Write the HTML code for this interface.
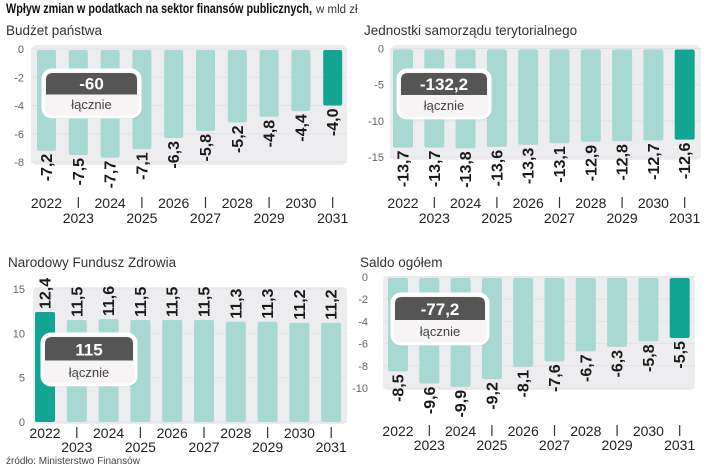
<!DOCTYPE html>
<html><head><meta charset="utf-8">
<style>
body{margin:0;background:#fff;width:720px;height:468px;overflow:hidden}
svg{display:block}
text{font-family:"Liberation Sans Narrow","Liberation Sans",sans-serif}
</style></head>
<body>
<svg id="c" width="720" height="468" viewBox="0 0 720 468" xmlns="http://www.w3.org/2000/svg">
<text x="6" y="13" font-size="13.5" fill="#111"><tspan font-weight="bold" textLength="306" lengthAdjust="spacingAndGlyphs">Wpływ zmian w podatkach na sektor finansów publicznych,</tspan><tspan font-family="Liberation Sans" font-size="11.5" fill="#333" dx="4">w mld zł</tspan></text>
<text x="6" y="464" font-size="10" fill="#444">źródło: Ministerstwo Finansów</text>
</svg>
<script>
const years = ["2022","2023","2024","2025","2026","2027","2028","2029","2030","2031"];
const budzetValues = [-7.2,-7.5,-7.7,-7.1,-6.3,-5.8,-5.2,-4.8,-4.4,-4.0];
const jstValues = [-13.7,-13.7,-13.8,-13.6,-13.3,-13.1,-12.9,-12.8,-12.7,-12.6];
const nfzValues = [12.4,11.5,11.6,11.5,11.5,11.5,11.3,11.3,11.2,11.2];
const saldoValues = [-8.5,-9.6,-9.9,-9.2,-8.1,-7.6,-6.7,-6.3,-5.8,-5.5];
const budzetTicks = [0,-2,-4,-6,-8];
const jstTicks = [0,-5,-10,-15];
const nfzTicks = [15,10,5,0];
const saldoTicks = [0,-2,-4,-6,-8,-10];
const totals = ["-60","-132,2","115","-77,2"];
const titles = ["Budżet państwa","Jednostki samorządu terytorialnego","Narodowy Fundusz Zdrowia","Saldo ogółem"];

const NS="http://www.w3.org/2000/svg";
const svg=document.getElementById('c');
function mk(tag,attrs,parent){const e=document.createElementNS(NS,tag);for(const k in attrs)e.setAttribute(k,attrs[k]);(parent||svg).appendChild(e);return e;}
function fmt(v){return v.toFixed(1).replace('.',',');}

const panels=[
 {key:'budzet',vals:budzetValues,ticks:budzetTicks,title:titles[0],total:totals[0],hi:9,
  tx:6,ty:35,bg:[31,45,347,165],y0:49,ymin:0,ymax:-8,yAtMax:162,bx:37,bw:19,pitch:31.8,tickR:24,box:[43,70,140,117],yr1:208,yr2:223},
 {key:'jst',vals:jstValues,ticks:jstTicks,title:titles[1],total:totals[1],hi:9,
  tx:364,ty:35,bg:[390,45,701,160],y0:48.5,ymin:0,ymax:-15,yAtMax:157,bx:393,bw:20,pitch:31.3,tickR:384,box:[398,70,490,118],yr1:208,yr2:223},
 {key:'nfz',vals:nfzValues,ticks:nfzTicks,title:titles[2],total:totals[2],hi:0,
  tx:8,ty:267,bg:[33,287,347,424],y0:422,ymin:0,ymax:15,yAtMax:289,bx:35,bw:20,pitch:31.8,tickR:25,box:[42,334,136,385],yr1:438,yr2:452},
 {key:'saldo',vals:saldoValues,ticks:saldoTicks,title:titles[3],total:totals[3],hi:9,
  tx:360,ty:267,bg:[383,276,695,390],y0:277,ymin:0,ymax:-10,yAtMax:388,bx:388,bw:20,pitch:31.3,tickR:368,box:[392,294,488,344],yr1:436,yr2:450}
];

panels.forEach(p=>{
  const g=mk('g',{});
  
  
  const yScale=v=>p.y0+(v-p.ymin)*(p.yAtMax-p.y0)/(p.ymax-p.ymin);
  const xScale=i=>p.bx+i*p.pitch;
  const t=mk('text',{x:p.tx,y:p.ty,'font-size':13.5,fill:'#333','font-family':'Liberation Sans'},g);
  t.textContent=p.title;
  
  
  const bg=mk('rect',{x:p.bg[0],y:p.bg[1],width:p.bg[2]-p.bg[0],height:p.bg[3]-p.bg[1],rx:6,fill:'#ededef'},g);
  
  
  p.ticks.forEach(tv=>{
    const y=yScale(tv);
    const gl=mk('line',{x1:p.bg[0],x2:p.bg[2],y1:y,y2:y,stroke:'#e2e2e6','stroke-width':1},g);
    
    
    const tl=mk('text',{x:p.tickR,y:y+4,'font-size':11,fill:'#666','text-anchor':'end','font-family':'Liberation Sans'},g);
    tl.textContent=String(tv);
    
    
  });
  p.vals.forEach((v,i)=>{
    const x=xScale(i);
    const ya=yScale(0)+(v<0?1:0), yb=yScale(v);
    const top=Math.min(ya,yb), h=Math.abs(yb-ya);
    const b=mk('rect',{x:x,y:top,width:p.bw,height:h,rx:2,fill:i===p.hi?'#12a594':'#a7d9d2'},g);
    
    
    const cx=x+p.bw/2+5.5;
    let lbl;
    if(v<0){
      lbl=mk('text',{x:0,y:0,'font-size':16,'font-weight':'bold',fill:'#1a1a1a','text-anchor':'end',transform:`translate(${cx},${yb+3}) rotate(-90)`},g);
    }else{
      lbl=mk('text',{x:0,y:0,'font-size':16,'font-weight':'bold',fill:'#1a1a1a','text-anchor':'start',transform:`translate(${cx},${yb-3}) rotate(-90)`},g);
    }
    lbl.textContent=fmt(v);
    
    
    const xc=x+p.bw/2;
    const yl=mk('text',{x:xc,y:i%2===0?p.yr1:p.yr2,'font-size':14,fill:'#222','text-anchor':'middle','font-family':'Liberation Sans'},g);
    yl.textContent=years[i];
    
    
    if(i%2===1){
      const s=mk('line',{x1:xc,x2:xc,y1:p.yr1-11,y2:p.yr1,stroke:'#333','stroke-width':1.2},g);
      
      
    }
  });
  const [x1,y1,x2,y2]=p.box, mid=y1+(y2-y1)*0.52;
  const bx=mk('g',{},g);
  
  
  mk('rect',{x:x1+1,y:y1+2,width:x2-x1,height:y2-y1,rx:9,fill:'#000',opacity:0.1},bx);
  mk('rect',{x:x1,y:y1,width:x2-x1,height:y2-y1,rx:9,fill:'#f7f4f6',stroke:'#fff','stroke-width':3},bx);
  mk('path',{d:`M${x1+3} ${mid} L${x1+3} ${y1+10} Q${x1+3} ${y1+3} ${x1+10} ${y1+3} L${x2-10} ${y1+3} Q${x2-3} ${y1+3} ${x2-3} ${y1+10} L${x2-3} ${mid} Z`,fill:'#555'},bx);
  const tv=mk('text',{x:(x1+x2)/2,y:mid-5,'font-size':17,'font-weight':'bold',fill:'#fff','text-anchor':'middle'},bx);
  tv.textContent=p.total;
  
  
  const tl=mk('text',{x:(x1+x2)/2,y:y2-8,'font-size':13,fill:'#444','text-anchor':'middle','font-family':'Liberation Sans'},bx);
  tl.textContent='łącznie';
  
  
});
</script>
</body></html>
